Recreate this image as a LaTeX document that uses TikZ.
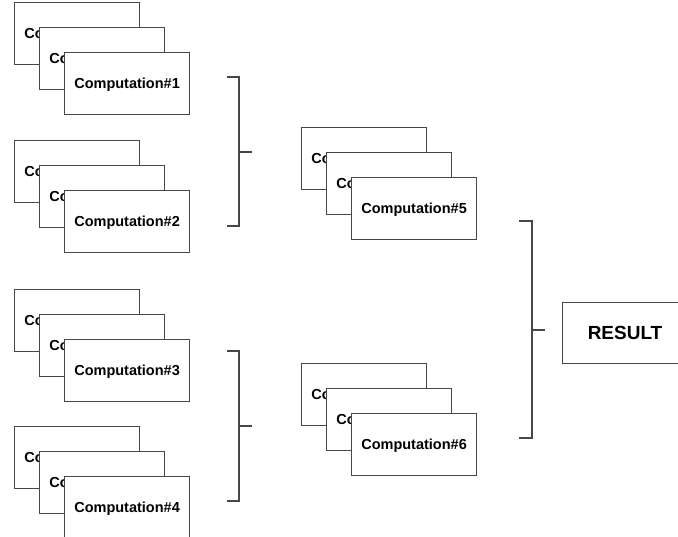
\documentclass[tikz,border=0pt]{standalone}
\usepackage{fontspec}
\setmainfont{Liberation Sans}
\begin{document}
\begin{tikzpicture}[x=1pt,y=-1pt,
  card/.style={draw=black!72, line width=1.1pt, fill=white, anchor=north west,
    minimum width=125pt, minimum height=62pt, inner sep=0pt,
    text height=10.4pt, text depth=0pt,
    font=\fontsize{14.5}{16}\selectfont\bfseries},
  resultbox/.style={draw=black!72, line width=1.1pt, fill=white, anchor=north west,
    minimum width=125pt, minimum height=61pt, inner sep=0pt,
    text height=13.6pt, text depth=0pt,
    font=\fontsize{19}{22}\selectfont\bfseries},
  brace/.style={draw=black!72, line width=1.1pt}]
\useasboundingbox (0,0) rectangle (678,537);
\clip (0,0) rectangle (678,537);

% stacks of three overlapping cards, back to front
\node[card] (s1a) at (14,2) {Computation\#1};
\node[card] (s1b) at (39,27) {Computation\#1};
\node[card] (s1c) at (64,52) {Computation\#1};

\node[card] (s2a) at (14,140) {Computation\#2};
\node[card] (s2b) at (39,165) {Computation\#2};
\node[card] (s2c) at (64,190) {Computation\#2};

\node[card] (s3a) at (14,289) {Computation\#3};
\node[card] (s3b) at (39,314) {Computation\#3};
\node[card] (s3c) at (64,339) {Computation\#3};

\node[card] (s4a) at (14,426) {Computation\#4};
\node[card] (s4b) at (39,451) {Computation\#4};
\node[card] (s4c) at (64,476) {Computation\#4};

\node[card] (s5a) at (301,127) {Computation\#5};
\node[card] (s5b) at (326,152) {Computation\#5};
\node[card] (s5c) at (351,177) {Computation\#5};

\node[card] (s6a) at (301,363) {Computation\#6};
\node[card] (s6b) at (326,388) {Computation\#6};
\node[card] (s6c) at (351,413) {Computation\#6};

\node[resultbox] (result) at (562,302) {RESULT};

% brackets joining the groups
\coordinate (b1t) at (227,77);  \coordinate (b1tc) at (239,77);
\coordinate (b1b) at (227,226); \coordinate (b1bc) at (239,226);
\coordinate (b1m) at (239,152); \coordinate (b1o) at (252,152);
\draw[brace] (b1t) -- (b1tc) -- (b1bc) -- (b1b);
\draw[brace] (b1m) -- (b1o);

\coordinate (b2t) at (227,351); \coordinate (b2tc) at (239,351);
\coordinate (b2b) at (227,501); \coordinate (b2bc) at (239,501);
\coordinate (b2m) at (239,426); \coordinate (b2o) at (252,426);
\draw[brace] (b2t) -- (b2tc) -- (b2bc) -- (b2b);
\draw[brace] (b2m) -- (b2o);

\coordinate (b3t) at (519,221); \coordinate (b3tc) at (532,221);
\coordinate (b3b) at (519,438); \coordinate (b3bc) at (532,438);
\coordinate (b3m) at (532,330); \coordinate (b3o) at (545,330);
\draw[brace] (b3t) -- (b3tc) -- (b3bc) -- (b3b);
\draw[brace] (b3m) -- (b3o);
\end{tikzpicture}
\end{document}
